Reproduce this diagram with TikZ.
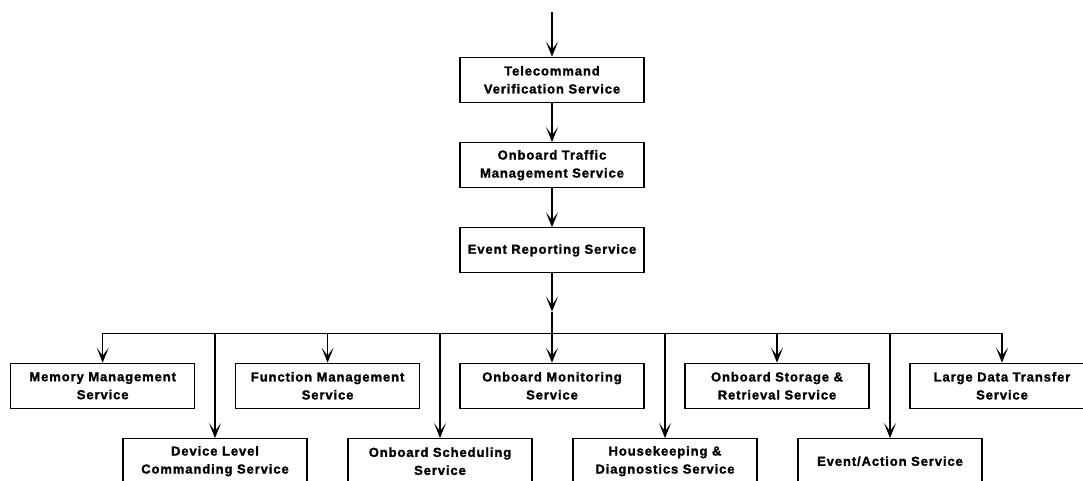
\documentclass[tikz,border=0pt]{standalone}
\usepackage{fontspec}
\setmainfont{Liberation Sans}
\newfontfamily\boxfont[LetterSpace=7,FakeBold=1.6]{Liberation Sans Bold}
\usetikzlibrary{arrows.meta}
\tikzset{
  svcbox/.style={draw, line width=1.2pt, minimum width=184pt, minimum height=45pt,
    inner sep=0pt, align=center, font=\boxfont\fontsize{13}{18}\selectfont},
  arr/.style={line width=1.1pt, -{Stealth[length=15pt,width=12pt,inset=8pt]}},
  wire/.style={line width=1.1pt}
}
\begin{document}
\begin{tikzpicture}[x=1pt,y=1pt]
\useasboundingbox (0,0) rectangle (1083,481);
\clip (0,0) rectangle (1083,481);
% top chain
\coordinate (in) at (552,469);
\node[svcbox] (tc)  at (552,401.2) {Telecommand\\Verification Service};
\node[svcbox] (otm) at (552,315.8) {Onboard Traffic\\Management Service};
\node[svcbox] (er)  at (552,230.6) {Event Reporting Service};
% top row
\node[svcbox] (mem) at (102.7,95.2) {Memory Management\\Service};
\node[svcbox] (fun) at (327.6,95.2) {Function Management\\Service};
\node[svcbox] (mon) at (552,95.2) {Onboard Monitoring\\Service};
\node[svcbox] (sto) at (777,95.2) {Onboard Storage \&\\Retrieval Service};
\node[svcbox] (ldt) at (1002,95.2) {Large Data Transfer\\Service};
% bottom row
\node[svcbox] (dev) at (215,19.8) {Device Level\\Commanding Service};
\node[svcbox] (sch) at (440,19.8) {Onboard Scheduling\\Service};
\node[svcbox] (hk)  at (665,19.8) {Housekeeping \&\\Diagnostics Service};
\node[svcbox] (ea)  at (890,19.8) {Event/Action Service};
% connectors
\draw[arr] (in) -- (tc.north);
\draw[arr] (tc.south) -- (otm.north);
\draw[arr] (otm.south) -- (er.north);
\coordinate (trunk) at (552,169.3);
\draw[arr] (er.south) -- (trunk);
\draw[arr] (trunk) -- (mon.north);
% bus
\coordinate (busL) at (mem.north |- 0,147.7);
\coordinate (busR) at (ldt.north |- 0,147.7);
\draw[wire] (busL) -- (busR);
\draw[arr] (busL) -- (mem.north);
\draw[arr] (busR) -- (ldt.north);
\draw[arr] (fun.north |- busL) -- (fun.north);
\draw[arr] (sto.north |- busL) -- (sto.north);
\draw[arr] (dev.north |- busL) -- (dev.north);
\draw[arr] (sch.north |- busL) -- (sch.north);
\draw[arr] (hk.north |- busL) -- (hk.north);
\draw[arr] (ea.north |- busL) -- (ea.north);
\end{tikzpicture}
\end{document}
